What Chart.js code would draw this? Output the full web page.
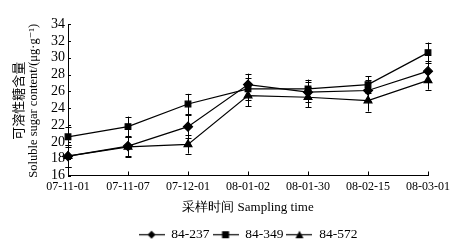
<!DOCTYPE html>
<html><head><meta charset="utf-8">
<script src="https://cdn.jsdelivr.net/npm/chart.js@4/dist/chart.umd.min.js"></script>
<style>html,body{margin:0;padding:0;background:#fff}#wrap{width:464px;height:251px}</style>
</head><body><div id="wrap"><canvas id="c" width="464" height="251"></canvas></div>
<script>
const categories = ["07-11-01","07-11-07","07-12-01","08-01-02","08-01-30","08-02-15","08-03-01"];
const seriesNames = ["84-237","84-349","84-572"];
const s237 = [18.3, 19.5, 21.8, 26.8, 25.9, 26.1, 28.4];
const s349 = [20.6, 21.8, 24.5, 26.3, 26.3, 26.8, 30.6];
const s572 = [18.3, 19.4, 19.7, 25.5, 25.3, 24.9, 27.3];
const e237 = [1.3, 1.2, 1.4, 1.3, 1.2, 1.2, 1.2];
const e349 = [1.2, 1.2, 1.2, 1.3, 1.1, 1.0, 1.2];
const e572 = [1.3, 1.2, 1.1, 1.3, 1.2, 1.3, 1.1];
const yTicks = [16,18,20,22,24,26,28,30,32,34];
const yTitleCN = "可溶性糖含量";
const yTitleEN = "Soluble sugar content/(μg·g⁻¹)";
const xTitle = "采样时间 Sampling time";

const styles = ["rectRot","rect","triangle"];
const serif = "'Liberation Serif','DejaVu Serif',serif";

function legendIcon(style){
  const c = document.createElement('canvas'); c.width = 26; c.height = 10;
  const g = c.getContext('2d');
  g.strokeStyle = '#000'; g.lineWidth = 1.2;
  g.beginPath(); g.moveTo(0,5.5); g.lineTo(26,5.5); g.stroke();
  g.fillStyle = '#000';
  g.beginPath();
  if(style==='rectRot'){ g.moveTo(13,1.5); g.lineTo(17,5.5); g.lineTo(13,9.5); g.lineTo(9,5.5); }
  else if(style==='rect'){ g.rect(9.5,2,7,7); }
  else { g.moveTo(13,1.5); g.lineTo(17,9); g.lineTo(9,9); }
  g.closePath(); g.fill();
  return c;
}

const errPlugin = {
  id:'err',
  afterLayout(chart){
    const lg = chart.legend, ca = chart.chartArea;
    if(lg){ const shift = ((ca.left+ca.right)/2 - (lg.left+lg.right)/2)*2; lg.left += shift; }
  },
  afterDatasetsDraw(chart){
    const ctx = chart.ctx, ys = chart.scales.y;
    const errs = [e237,e349,e572];
    ctx.save(); ctx.strokeStyle='#000'; ctx.lineWidth=1;
    chart.data.datasets.forEach((ds,i)=>{
      const meta = chart.getDatasetMeta(i);
      meta.data.forEach((pt,j)=>{
        const v = ds.data[j], e = errs[i][j];
        const x = Math.round(pt.x)+0.5;
        const y1 = ys.getPixelForValue(v+e), y2 = ys.getPixelForValue(v-e);
        ctx.beginPath();
        ctx.moveTo(x,y1); ctx.lineTo(x,y2);
        ctx.moveTo(x-3,Math.round(y1)+0.5); ctx.lineTo(x+3,Math.round(y1)+0.5);
        ctx.moveTo(x-3,Math.round(y2)+0.5); ctx.lineTo(x+3,Math.round(y2)+0.5);
        ctx.stroke();
      });
    });
    // inward x ticks
    const xs = chart.scales.x, ca = chart.chartArea;
    ctx.beginPath();
    categories.forEach((c,j)=>{ const x=Math.round(xs.getPixelForValue(j))+0.5; ctx.moveTo(x,ca.bottom); ctx.lineTo(x,ca.bottom-4); });
    yTicks.forEach(t=>{ const y=Math.round(ys.getPixelForValue(t))+0.5; ctx.moveTo(ca.left,y); ctx.lineTo(ca.left+3,y); });
    ctx.stroke();
    // y titles
    const cy = (ca.top+ca.bottom)/2 + 1;
    ctx.fillStyle='#000'; ctx.textAlign='center'; ctx.textBaseline='middle';
    ctx.translate(18,cy); ctx.rotate(-Math.PI/2);
    ctx.font = "13px 'Noto Sans CJK SC'";
    ctx.fillText(yTitleCN,0,0);
    ctx.restore();
    ctx.save(); ctx.fillStyle='#000'; ctx.textAlign='center'; ctx.textBaseline='middle';
    ctx.translate(34,cy); ctx.rotate(-Math.PI/2);
    ctx.font = "12.5px " + serif;
    ctx.fillText(yTitleEN,0,0);
    ctx.restore();
  }
};

const allData = [s237,s349,s572];
new Chart(document.getElementById('c'),{
  type:'line',
  data:{labels:categories, datasets: seriesNames.map((n,i)=>({
    label:n, data:allData[i], borderColor:'#000', backgroundColor:'#000', borderWidth:1.2,
    pointStyle:styles[i], pointRadius:i===1?4:4.5, pointBackgroundColor:'#000', pointBorderColor:'#000', tension:0
  }))},
  options:{
    responsive:false, animation:false,
    layout:{padding:{left:0,right:36,top:24,bottom:0}},
    plugins:{
      tooltip:{enabled:false},
      legend:{position:'bottom', labels:{
        usePointStyle:true, pointStyleWidth:26, boxHeight:10, color:'#000', padding:3,
        font:{family:serif,size:13.5},
        generateLabels(chart){ return chart.data.datasets.map((d,i)=>({text:d.label, pointStyle:legendIcon(styles[i]), fillStyle:'#000', strokeStyle:'#000', lineWidth:0, datasetIndex:i, fontColor:'#000'})); }
      }}
    },
    scales:{
      x:{type:'category', offset:false,
        grid:{display:true, drawOnChartArea:false, drawTicks:false, color:'#000'},
        border:{color:'#000', width:1},
        ticks:{color:'#000', font:{family:serif,size:12}, padding:4, maxRotation:0, autoSkip:false},
        title:{display:true, text:xTitle, color:'#000', font:{family:serif,size:13}, padding:{top:2,bottom:9}}
      },
      y:{min:16,max:34,
        afterFit(s){ s.width = 68; },
        afterBuildTicks(s){ s.ticks = yTicks.map(v=>({value:v})); },
        grid:{display:false, drawTicks:false},
        border:{color:'#000', width:1},
        ticks:{color:'#000', font:{family:serif,size:14}, padding:3, autoSkip:false}
      }
    }
  },
  plugins:[errPlugin]
});
</script></body></html>
